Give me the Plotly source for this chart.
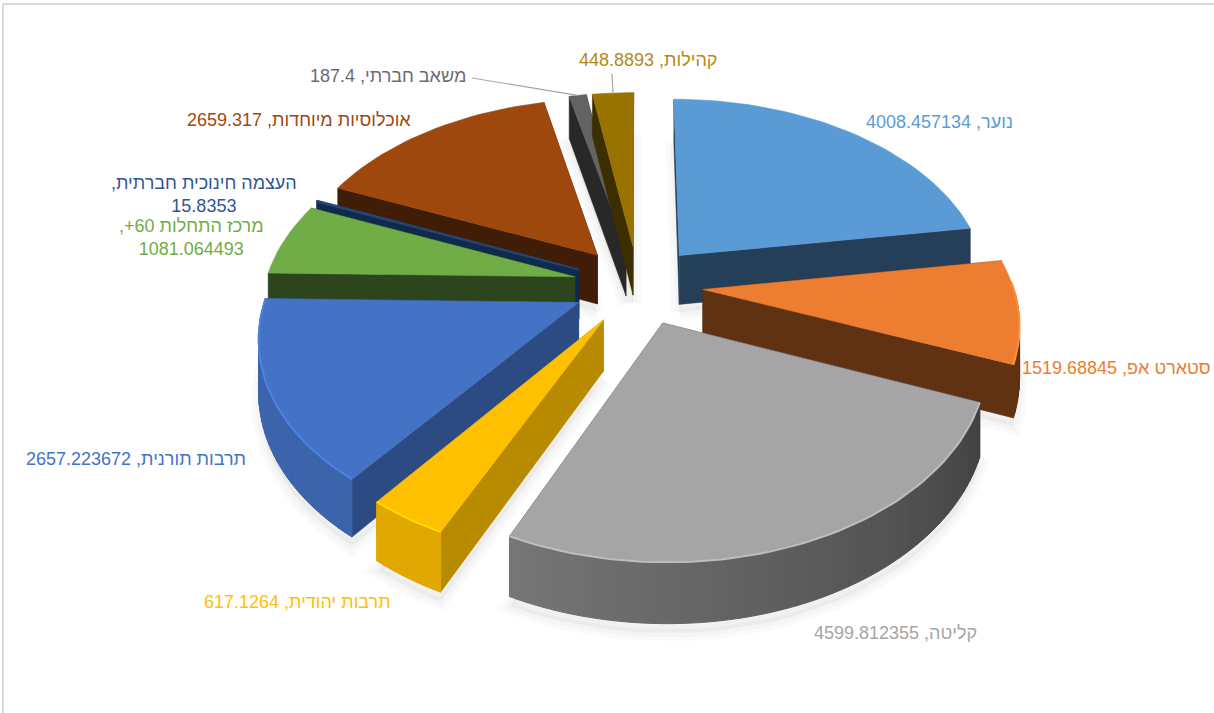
import math
import plotly.graph_objects as go

categories = ["נוער", "סטארט אפ", "קליטה", "תרבות יהודית", "תרבות תורנית",
              "מרכז התחלות 60+", "העצמה חינוכית חברתית", "אוכלוסיות מיוחדות",
              "משאב חברתי", "קהילות"]
values = [4008.457134, 1519.68845, 4599.812355, 617.1264, 2657.223672,
          1081.064493, 15.8353, 2659.317, 187.4, 448.8893]
value_labels = ["4008.457134", "1519.68845", "4599.812355", "617.1264", "2657.223672",
                "1081.064493", "15.8353", "2659.317", "187.4", "448.8893"]
top_colors = ["#5B9BD5", "#ED7D31", "#A5A5A5", "#FFC000", "#4472C4",
              "#70AD47", "#264478", "#9E480E", "#636363", "#997300"]
wall_colors = ["#243F57", "#5F3213", "#424242", "#B88A00", "#2B4B82",
               "#2D451C", "#0F2B4B", "#3F1D06", "#282828", "#3D2E00"]
label_colors = ["#5B9BD5", "#ED7D31", "#A5A5A5", "#FFC000", "#4472C4",
                "#70AD47", "#2F5597", "#9E480E", "#6B6B75", "#B58A10"]

# 3d pie settings, in pixels of the 1214x713 page
CX, CY = 638, 285
RADIUS = 310
EXPLODE = 65
DEPTH = 50
TILT = 0.61
CAMERA = 2000
FONT = "Liberation Sans, sans-serif"


def project(x, y, z=0):
    s = CAMERA / (CAMERA + y)
    return CX + x * s, CY - y * TILT * s - z * s


def rim_point(angle, off, z=0):
    rad = math.radians(angle)
    return project(off[0] + RADIUS * math.sin(rad), off[1] + RADIUS * math.cos(rad), z)


def offset(a0, a1):
    mid = math.radians((a0 + a1) / 2)
    return EXPLODE * math.sin(mid), EXPLODE * math.cos(mid)


def shade(color, f):
    rgb = [int(color[i:i + 2], 16) for i in (1, 3, 5)]
    return "rgb({},{},{})".format(*[min(255, int(c * f)) for c in rgb])


fig = go.Figure()


def poly(points, color, line=0.5, line_color=None):
    fig.add_trace(go.Scatter(
        x=[p[0] for p in points] + [points[0][0]],
        y=[p[1] for p in points] + [points[0][1]],
        mode="lines", fill="toself", fillcolor=color,
        line=dict(color=line_color or color, width=line), hoverinfo="skip", showlegend=False,
    ))


def arc(a0, a1, step=2.0):
    n = max(1, int(abs(a1 - a0) / step))
    return [a0 + (a1 - a0) * i / n for i in range(n + 1)]


def draw_shadow(a0, a1):
    # soft shadow on the page under the slice
    off = offset(a0, a1)
    z = -DEPTH - 8
    pts = [project(off[0], off[1], z)] + [rim_point(a, off, z) for a in arc(a0, a1, 4.0)]
    for width in (16, 8):
        poly(pts, "rgba(0,0,0,0.02)", line=width, line_color="rgba(0,0,0,0.02)")


def draw_slice(i, a0, a1):
    off = offset(a0, a1)
    apex_top = project(off[0], off[1])
    apex_low = project(off[0], off[1], -DEPTH)
    wall = wall_colors[i]

    # cut faces, the top face hides whatever faces away
    for a in (a0, a1):
        poly([apex_top, rim_point(a, off), rim_point(a, off, -DEPTH), apex_low], wall)

    # outer rim, only the part facing the viewer, darker to the right
    angles = [a for a in arc(a0, a1, 1.5) if 88 <= a <= 272]
    if a0 < 88 < a1:
        angles = [88] + angles
    for a, b in zip(angles, angles[1:]):
        m = (a + b) / 2
        f = 0.88 if a0 >= 204 else 0.4 + max(m - 112, 0) / 93 * 0.32
        poly([rim_point(a, off), rim_point(b, off),
              rim_point(b, off, -DEPTH), rim_point(a, off, -DEPTH)],
             shade(top_colors[i], f), line=1)

    # top face
    top = [apex_top] + [rim_point(a, off) for a in arc(a0, a1)]
    poly(top, top_colors[i], line=2 if a1 - a0 < 1 else 0.5)

    # bevel highlight along the front edge
    if len(angles) > 1:
        edge = [rim_point(a, off) for a in angles]
        fig.add_trace(go.Scatter(
            x=[p[0] for p in edge], y=[p[1] for p in edge], mode="lines",
            line=dict(color=shade(top_colors[i], 1.15), width=2),
            hoverinfo="skip", showlegend=False,
        ))


total = sum(values)
spans = []
start = 0.0
for v in values:
    spans.append((start, start + v / total * 360))
    start += v / total * 360

for span in spans:
    draw_shadow(*span)

# back to front
draw_order = [7, 8, 9, 0, 6, 5, 1, 4, 3, 2]
for i in draw_order:
    draw_slice(i, *spans[i])


def leader(i, x0, y0):
    a = sum(spans[i]) / 2
    x1, y1 = rim_point(a, offset(*spans[i]))
    fig.add_trace(go.Scatter(x=[x0, x1], y=[y0, y1], mode="lines",
                             line=dict(color="#A6A6A6", width=1.2),
                             hoverinfo="skip", showlegend=False))


leader(8, 472, 78)
leader(9, 612, 74)


def rtl(text):
    return "\u202b" + text + "\u202c"


# label centre positions on the page
label_pos = [(939, 122), (1116, 368), (895, 633), (297, 602), (136, 459),
             (191, 237), (204, 194), (299, 120), (388, 76), (648, 60)]
label_text = [rtl(f"{c}, {v}") for c, v in zip(categories, value_labels)]
label_text[5] = rtl(categories[5] + ",") + "<br>" + value_labels[5]
label_text[6] = rtl(categories[6] + ",") + "<br>" + value_labels[6]

for i, (x, y) in enumerate(label_pos):
    fig.add_annotation(x=x, y=y, text=label_text[i], showarrow=False,
                       xanchor="center", yanchor="middle",
                       font=dict(family=FONT, size=18, color=label_colors[i]))

fig.add_shape(type="line", x0=3, x1=3, y0=4, y1=713, line=dict(color="#D9D9D9", width=2))
fig.add_shape(type="line", x0=3, x1=1214, y0=4, y1=4, line=dict(color="#D9D9D9", width=2))

fig.update_xaxes(range=[0, 1214], visible=False, fixedrange=True)
fig.update_yaxes(range=[713, 0], visible=False, fixedrange=True)
fig.update_layout(
    width=1214, height=713, autosize=False,
    margin=dict(l=0, r=0, t=0, b=0),
    paper_bgcolor="white", plot_bgcolor="white",
    showlegend=False,
)

# the page's default body margin would push the chart 8px off
fig.write_html("out.html", config={"displayModeBar": False},
               post_script="document.body.style.margin='0';")
